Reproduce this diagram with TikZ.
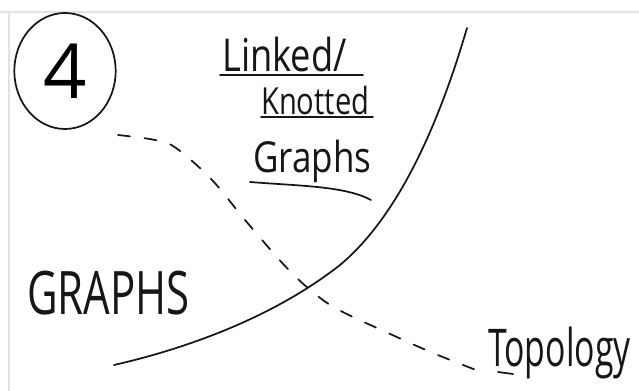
\documentclass[tikz,border=0pt]{standalone}
\usepackage{fontspec}
\setmainfont{Open Sans}
\usetikzlibrary{positioning,shapes.geometric}
\definecolor{ink}{RGB}{22,22,22}
\definecolor{sheet}{RGB}{226,226,226}
\tikzset{
  pen/.style={draw=ink,line width=1.3pt,line cap=round,line join=round},
  dashpen/.style={pen,dash pattern=on 9pt off 11pt},
  hand/.style={text=ink,inner sep=0pt,anchor=base west},
  ring/.style={pen,ellipse,inner sep=0pt,minimum width=76pt,minimum height=87pt},
  edge/.style={draw=sheet,line width=0.8pt}
}
\begin{document}
\begin{tikzpicture}[x=0.75pt,y=-0.75pt]
  \useasboundingbox (0,0) rectangle (639,391);
  \draw[edge] (0,12) -- (639,12);
  \draw[edge] (9,12) -- (9,391);
  \node[ring,font=\fontsize{57}{57}\selectfont] (four) at (65,71) {4};
  \node[hand,xscale=0.8,font=\fontsize{34}{34}\selectfont] (linked) at (222,72) {Linked/};
  \node[hand,xscale=0.78,font=\fontsize{28}{28}\selectfont] (knotted) at (261,115) {Knotted};
  \node[hand,xscale=0.82,font=\fontsize{32}{32}\selectfont] (graphs) at (253,173) {Graphs};
  \node[hand,xscale=0.7,font=\fontsize{45}{45}\selectfont] (GRAPHS) at (27,315) {GRAPHS};
  \node[hand,xscale=0.65,font=\fontsize{39}{39}\selectfont] (topo) at (488,367) {Topology};
  \draw[pen] (220,75) -- (363,75);
  \draw[pen] (261,117) -- (373,117);
  \draw[pen] (250,182) .. controls (300,186) and (345,186) .. (371,200);
  \draw[pen] (498,372) -- (513,374);
  \draw[pen] (467,28) .. controls (440,120) and (400,215) .. (340,265) .. controls (270,320) and (180,350) .. (114,365);
  \draw[dashpen] plot[smooth,tension=0.6] coordinates {(118,135) (155,140) (176,148) (212,180) (245,220) (286,267) (314,293) (339,310) (388,333) (433,353) (476,370)};
\end{tikzpicture}
\end{document}
